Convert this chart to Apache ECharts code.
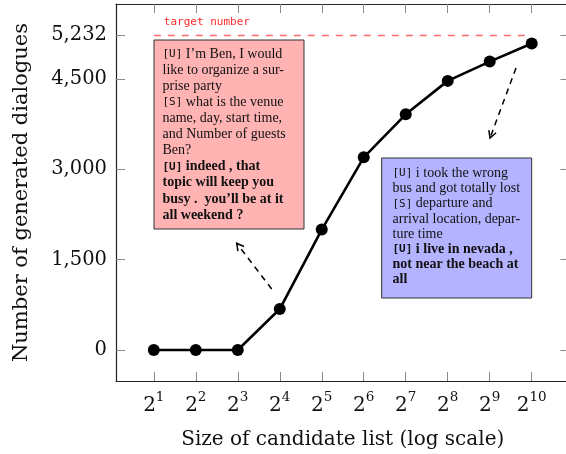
<!DOCTYPE html>
<html>
<head>
<meta charset="utf-8">
<script src="https://cdn.jsdelivr.net/npm/echarts@6/dist/echarts.min.js"></script>
<style>
  html, body { margin: 0; padding: 0; background: #fff; }
  #chart { width: 566px; height: 454px; }
</style>
</head>
<body>
<div id="chart"></div>
<script>
// Candidate list sizes (x, log2 scale) and number of generated dialogues (y)
const sizes = [2, 4, 8, 16, 32, 64, 128, 256, 512, 1024];
const dialogues = [0, 0, 0, 680, 2000, 3200, 3915, 4470, 4790, 5090];
const yTicks = [0, 1500, 3000, 4500, 5232];
const targetNumber = 5232;

// Example dialogues shown in the two callout boxes: [speaker, text, bold]
const lowExample = [
  ['[U]', " I’m Ben, I would", false],
  ['', 'like to organize a sur-', false],
  ['', 'prise party', false],
  ['[S]', ' what is the venue', false],
  ['', 'name, day, start time,', false],
  ['', 'and Number of guests', false],
  ['', 'Ben?', false],
  ['[U]', ' indeed , that', true],
  ['', 'topic will keep you', true],
  ['', 'busy .  you’ll be at it', true],
  ['', 'all weekend ?', true]
];
const highExample = [
  ['[U]', ' i took the wrong', false],
  ['', 'bus and got totally lost', false],
  ['[S]', ' departure and', false],
  ['', 'arrival location, depar-', false],
  ['', 'ture time', false],
  ['[U]', ' i live in nevada ,', true],
  ['', 'not near the beach at', true],
  ['', 'all', true]
];

const SERIF = '"Liberation Serif", "Times New Roman", serif';
const AXSERIF = '"DejaVu Serif", "Liberation Serif", serif';
const MONO = '"DejaVu Sans Mono", "Liberation Mono", monospace';
const FRAME = '#222';
const TICK = '#8a8a8a';

function richLines(lines) {
  return lines.map(function (l) {
    const sp = l[0] ? '{' + (l[2] ? 'mb' : 'm') + '|' + l[0] + '}' : '';
    return sp + '{' + (l[2] ? 'sb' : 's') + '|' + l[1] + '}';
  }).join('\n');
}
function richStyles(lh) {
  return {
    m: { fontFamily: MONO, fontSize: 11, lineHeight: lh, fill: '#111' },
    mb: { fontFamily: MONO, fontSize: 11, fontWeight: 'bold', lineHeight: lh, fill: '#111' },
    s: { fontFamily: SERIF, fontSize: 14, lineHeight: lh, fill: '#111' },
    sb: { fontFamily: SERIF, fontSize: 14, fontWeight: 'bold', lineHeight: lh, fill: '#111' }
  };
}

function log2Label(v) {
  const e = Math.round(Math.log(v) / Math.LN2);
  return '{b|2}{e|' + e + '}';
}

const chart = echarts.init(document.getElementById('chart'), null, { renderer: 'canvas' });

const xCommon = {
  type: 'log',
  logBase: 2,
  min: Math.pow(2, 0.1),
  max: Math.pow(2, 10.9),
  axisLine: { show: true, onZero: false, lineStyle: { color: FRAME, width: 1.2 } },
  axisTick: { show: true, inside: true, length: 9, customValues: sizes, lineStyle: { color: TICK, width: 1 } },
  splitLine: { show: false },
  minorTick: { show: false }
};
const yCommon = {
  type: 'value',
  min: -515,
  max: 5747,
  axisLine: { show: true, onZero: false, lineStyle: { color: FRAME, width: 1.2 } },
  axisTick: { show: true, inside: true, length: 9, customValues: yTicks, lineStyle: { color: TICK, width: 1 } },
  splitLine: { show: false }
};

chart.setOption({
  animation: false,
  backgroundColor: '#fff',
  grid: { left: 116, top: 4, width: 453.5, height: 377, containLabel: false, outerBoundsMode: 'none' },
  xAxis: [
    Object.assign({}, xCommon, {
      position: 'bottom',
      name: 'Size of candidate list (log scale)',
      nameLocation: 'middle',
      nameGap: 49,
      nameTextStyle: { fontFamily: AXSERIF, fontSize: 20, color: '#111' },
      axisLabel: {
        show: true,
        customValues: sizes,
        margin: 9,
        formatter: log2Label,
        rich: {
          b: { fontFamily: AXSERIF, fontSize: 20, color: '#111', verticalAlign: 'bottom', lineHeight: 26 },
          e: { fontFamily: AXSERIF, fontSize: 13.5, color: '#111', verticalAlign: 'top', lineHeight: 26 }
        }
      }
    }),
    Object.assign({}, xCommon, { position: 'top', axisLabel: { show: false } })
  ],
  yAxis: [
    Object.assign({}, yCommon, {
      position: 'left',
      name: 'Number of generated dialogues',
      nameLocation: 'middle',
      nameGap: 84,
      nameTextStyle: { fontFamily: AXSERIF, fontSize: 21, color: '#111' },
      axisLabel: {
        show: true,
        customValues: yTicks,
        margin: 9,
        fontFamily: AXSERIF,
        fontSize: 19.5,
        color: '#111',
        formatter: function (v) { return Number(v).toLocaleString('en-US'); }
      }
    }),
    Object.assign({}, yCommon, { position: 'right', axisLabel: { show: false } })
  ],
  series: [{
    type: 'line',
    data: sizes.map(function (s, i) { return [s, dialogues[i]]; }),
    lineStyle: { color: '#000', width: 2.6 },
    itemStyle: { color: '#000' },
    symbol: 'circle',
    symbolSize: 12,
    showSymbol: true,
    z: 5,
    markLine: {
      silent: true,
      symbol: 'none',
      lineStyle: { color: '#ff6a6a', type: [7, 7], width: 1.3 },
      label: {
        show: true,
        position: 'insideStartTop',
        formatter: 'target number',
        fontFamily: MONO,
        fontSize: 11,
        color: '#ff2a2a',
        distance: [10, 7]
      },
      data: [[{ coord: [sizes[0], targetNumber] }, { coord: [sizes[sizes.length - 1], targetNumber] }]]
    }
  }]
});

// Callout boxes with sample dialogues and dashed pointer arrows
function arrowHead(x1, y1, x2, y2) {
  const a = Math.atan2(y2 - y1, x2 - x1);
  const L = 8, w = 0.5;
  return [
    [x2 - L * Math.cos(a - w), y2 - L * Math.sin(a - w)],
    [x2, y2],
    [x2 - L * Math.cos(a + w), y2 - L * Math.sin(a + w)]
  ];
}
const arrows = [[271.7, 289, 236.7, 243.3], [516, 68, 490, 138]];
const graphics = [];
arrows.forEach(function (a) {
  graphics.push({
    type: 'line', z: 10,
    shape: { x1: a[0], y1: a[1], x2: a[2], y2: a[3] },
    style: { stroke: '#000', lineWidth: 1.5, lineDash: [6, 5] }
  });
  graphics.push({
    type: 'polyline', z: 10,
    shape: { points: arrowHead(a[0], a[1], a[2], a[3]) },
    style: { stroke: '#000', lineWidth: 1.5, fill: null }
  });
});
graphics.push({
  type: 'rect', z: 20,
  shape: { x: 154, y: 40, width: 150, height: 189 },
  style: { fill: '#ffb3b3', stroke: '#333', lineWidth: 1 }
});
graphics.push({
  type: 'text', z: 21, x: 162.5, y: 46,
  style: { text: richLines(lowExample), rich: richStyles(16.1), fill: '#111' }
});
graphics.push({
  type: 'rect', z: 20,
  shape: { x: 381.7, y: 158, width: 150, height: 140 },
  style: { fill: '#b3b3ff', stroke: '#333', lineWidth: 1 }
});
graphics.push({
  type: 'text', z: 21, x: 392.5, y: 165.7,
  style: { text: richLines(highExample), rich: richStyles(15.2), fill: '#111' }
});
chart.setOption({ graphic: graphics });
</script>
</body>
</html>
